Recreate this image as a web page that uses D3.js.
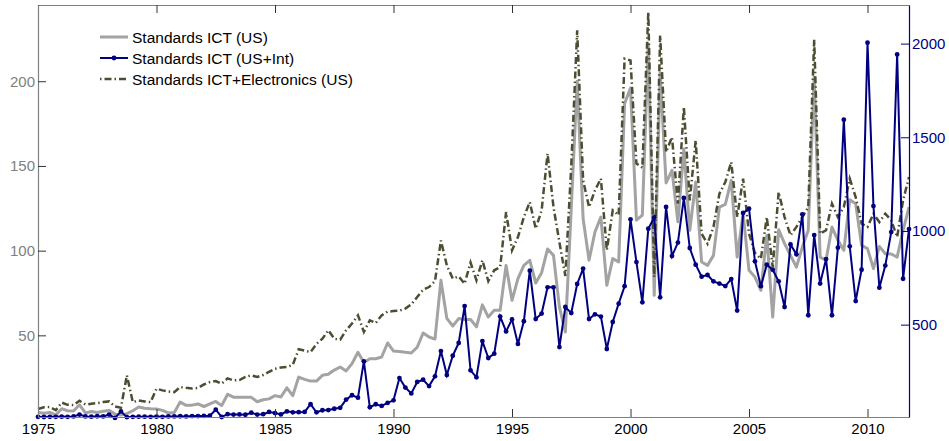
<!DOCTYPE html>
<html>
<head>
<meta charset="utf-8">
<script src="https://cdn.jsdelivr.net/npm/d3@7"></script>
<style>
  body { margin: 0; background: #fff; }
  svg text { font-family: "Liberation Sans", Arial, Helvetica, sans-serif; }
</style>
</head>
<body>
<div id="chart"></div>
<script>
// quarterly series, 1975Q1 .. 2011Q4
const startYear = 1975;

const ictUS = [
  4.5, 4, 4.5, 3,      6.7, 5.5, 5.3, 9,      4.2, 5, 4.5, 5.2,      5.7, 3.5, 3, 3.8,
  5.5, 7.7, 7, 6.7,    6.5, 5.7, 4.2, 4.5,    10.6, 8.7, 8.8, 9.5,   8, 9.5, 11, 8.5,
  15.2, 13.5, 13.4, 13.4, 13.4, 10.8, 12, 12.5, 14.4, 13.6, 19, 14.4, 25.4, 24, 23, 23,
  26.4, 27, 29.5, 31.3, 29, 33.3, 40, 34,    36.2, 36.2, 37.2, 45.5, 40.7, 40.5, 40, 39.6,
  43, 51.4, 49, 47.8,  82.5, 60, 55.5, 59.9,  59.4, 59.4, 55, 68,   60.8, 64.8, 64.8, 91.3,
  70.7, 83.5, 91.3, 94.3, 80.9, 87, 101, 97.2, 66.7, 52, 125, 200,  118.9, 94.3, 111, 119.8,
  79.5, 95.3, 93.3, 186.8, 196, 118, 121, 222, 73.6, 205, 140, 147.4, 117, 160, 112, 140.5,
  93.3, 91.3, 97.2, 125.7, 127.3, 141.5, 96.2, 121.8, 88.4, 84.4, 76.6, 109, 60.8, 112.4, 104.1, 97.2,
  90.3, 102.1, 112, 202.5, 96.2, 94.3, 113.9, 106.1, 100.2, 130.1, 127.7, 103.1, 101.2, 89.4, 102.5, 98.2,
  98, 96.2, 112, 125.7
];

const ictUSInt = [
  8, 7, 8, 8,          9, 8, 10, 20,          10, 9, 11, 10,         20, 2, 37, 6,
  8, 9, 9, 8,          9, 8, 10, 10,          11, 10, 12, 12,        13, 14, 46, 7,
  22, 20, 21, 19,      30, 20, 22, 34,        28, 21, 37, 32,        33, 34, 75, 32,
  43, 44, 51, 56,      100, 123, 110, 304,    59, 75, 66, 82,        96, 215, 164, 133,
  194, 206, 172, 224,  359, 231, 334, 402,    599, 256, 219, 412,    322, 345, 543, 464,
  528, 397, 518, 788,  530, 559, 699, 699,    380, 594, 562, 717,    799, 530, 555, 543,
  370, 514, 612, 705,  1062, 834, 619, 1012,  1073, 646, 1128, 866,  938, 1176, 909, 820,
  756, 765, 731, 719,  706, 743, 575, 1096,   1119, 838, 705, 820,   793, 731, 594, 928,
  875, 1089, 550, 978, 719, 850, 550, 911,    1594, 918, 626, 793,   2005, 1133, 697, 815,
  994, 1942, 745, 1010
];

const ictElecUS = [
  6.5, 7.5, 7.7, 5.8,  10.3, 9, 8.8, 11.4,    9.2, 9.6, 10, 10.6,    11, 8, 7.3, 26.4,
  10.6, 11.6, 11, 10.6, 18.5, 17.5, 16.8, 16.5, 19.5, 19, 18.6, 18.9, 21, 22.4, 23, 21.5,
  24.6, 23.4, 23.6, 25.5, 26.4, 25.4, 26.6, 28.5, 30.3, 31, 31.3, 32.6, 41.8, 41, 40.1, 45,
  48, 53, 48, 47.5,    53, 57, 61.8, 52,      58.9, 57.3, 61.8, 64,  64.3, 64.6, 65.8, 68.3,
  72.6, 77, 78.5, 82,  106, 91.3, 83.5, 84.8, 80.5, 93, 82.5, 94.3,  82, 88.4, 90.3, 122.8,
  100.2, 108, 119.8, 128.7, 113, 123.8, 157.3, 125.7, 105, 85, 150, 230, 141.5, 125.7, 135.6, 142.5,
  100.2, 123.8, 121, 213.3, 212.3, 151.4, 149, 240.8, 84.4, 227, 158.2, 167, 127.7, 184.8, 129.7, 165.1,
  110, 104.1, 114, 133.6, 140.5, 152.3, 119.8, 142.5, 110, 98.7, 95.2, 119.8, 90.3, 134.6, 119.8, 109,
  114, 119.8, 125.7, 224.5, 110, 112, 127.7, 119.8, 125.7, 142.5, 131.6, 115.9, 114, 121.8, 116.9, 121.8,
  117.9, 108, 129.7, 143.4
];

const seriesNames = ["Standards ICT (US)", "Standards ICT (US+Int)", "Standards ICT+Electronics (US)"];
const xTicks = [1975, 1980, 1985, 1990, 1995, 2000, 2005, 2010];
const leftTicks = [50, 100, 150, 200];
const rightTicks = [500, 1000, 1500, 2000];

const width = 949, height = 441;
const plotLeft = 38, plotRight = 909, plotTop = 5, plotBottom = 417;
const grayAxis = "#808080", navy = "#000080", grayLine = "#a3a3a3", olive = "#4d4d33";

const quarters = ictUS.map((d, i) => startYear + i / 4);

const x = d3.scaleLinear().domain([startYear, 2011.75]).range([plotLeft, plotRight]);
const yL = d3.scaleLinear().domain([1.8, 245]).range([plotBottom, plotTop]);
const yR = d3.scaleLinear().domain([7, 2206]).range([plotBottom, plotTop]);

const svg = d3.select("#chart").append("svg")
    .attr("width", width)
    .attr("height", height);

// lines
const lineL = d3.line().x((d, i) => x(quarters[i])).y(d => yL(d));
const lineR = d3.line().x((d, i) => x(quarters[i])).y(d => yR(d));

svg.append("path")
    .datum(ictUS)
    .attr("d", lineL)
    .attr("fill", "none")
    .attr("stroke", grayLine)
    .attr("stroke-width", 3)
    .attr("stroke-linejoin", "round");

svg.append("path")
    .datum(ictElecUS)
    .attr("d", lineL)
    .attr("fill", "none")
    .attr("stroke", olive)
    .attr("stroke-width", 2.5)
    .attr("stroke-dasharray", "7,3,1.5,3");

svg.append("path")
    .datum(ictUSInt)
    .attr("d", lineR)
    .attr("fill", "none")
    .attr("stroke", navy)
    .attr("stroke-width", 2);

svg.append("g").selectAll("circle")
    .data(ictUSInt)
    .enter().append("circle")
    .attr("cx", (d, i) => x(quarters[i]))
    .attr("cy", d => yR(d))
    .attr("r", 2.4)
    .attr("fill", navy);

// axes (ticks point inward)
const fmt = d3.format("d");

const gx = svg.append("g")
    .attr("transform", `translate(0,${plotBottom})`)
    .call(d3.axisBottom(x).tickValues(xTicks).tickFormat(fmt).tickSizeInner(-8).tickSizeOuter(0).tickPadding(6));

const gTop = svg.append("g")
    .attr("transform", `translate(0,${plotTop})`)
    .call(d3.axisTop(x).tickValues(xTicks).tickFormat("").tickSizeInner(-8).tickSizeOuter(0));

const gl = svg.append("g")
    .attr("transform", `translate(${plotLeft},0)`)
    .call(d3.axisLeft(yL).tickValues(leftTicks).tickFormat(fmt).tickSizeInner(-8).tickSizeOuter(0).tickPadding(3));

const gr = svg.append("g")
    .attr("transform", `translate(${plotRight},0)`)
    .call(d3.axisRight(yR).tickValues(rightTicks).tickFormat(fmt).tickSizeInner(-8).tickSizeOuter(0).tickPadding(3));

[gx, gTop, gl].forEach(g => {
    g.select(".domain").attr("stroke", grayAxis).attr("stroke-width", 1.2);
    g.selectAll(".tick line").attr("stroke", "#333");
    g.selectAll("text").attr("fill", grayAxis).attr("font-size", "15px");
});
gx.selectAll("text").attr("fill", "#000");
gr.select(".domain").attr("stroke", navy).attr("stroke-width", 1.2);
gr.selectAll(".tick line").attr("stroke", navy);
gr.selectAll("text").attr("fill", navy).attr("font-size", "15px");

// legend
const legend = svg.append("g").attr("transform", "translate(100,37)");
const rowGap = 21;

legend.append("line")
    .attr("x1", 0).attr("x2", 28).attr("y1", 0).attr("y2", 0)
    .attr("stroke", grayLine).attr("stroke-width", 3);

legend.append("line")
    .attr("x1", 0).attr("x2", 28).attr("y1", rowGap).attr("y2", rowGap)
    .attr("stroke", navy).attr("stroke-width", 2);
legend.append("circle")
    .attr("cx", 14).attr("cy", rowGap).attr("r", 2.4).attr("fill", navy);

legend.append("line")
    .attr("x1", 0).attr("x2", 28).attr("y1", rowGap * 2).attr("y2", rowGap * 2)
    .attr("stroke", olive).attr("stroke-width", 2.5)
    .attr("stroke-dasharray", "1.5,3,7,3");

legend.selectAll("text")
    .data(seriesNames)
    .enter().append("text")
    .attr("x", 32)
    .attr("y", (d, i) => i * rowGap)
    .attr("dy", "0.36em")
    .attr("font-size", "15.5px")
    .attr("fill", "#000")
    .text(d => d);
</script>
</body>
</html>
